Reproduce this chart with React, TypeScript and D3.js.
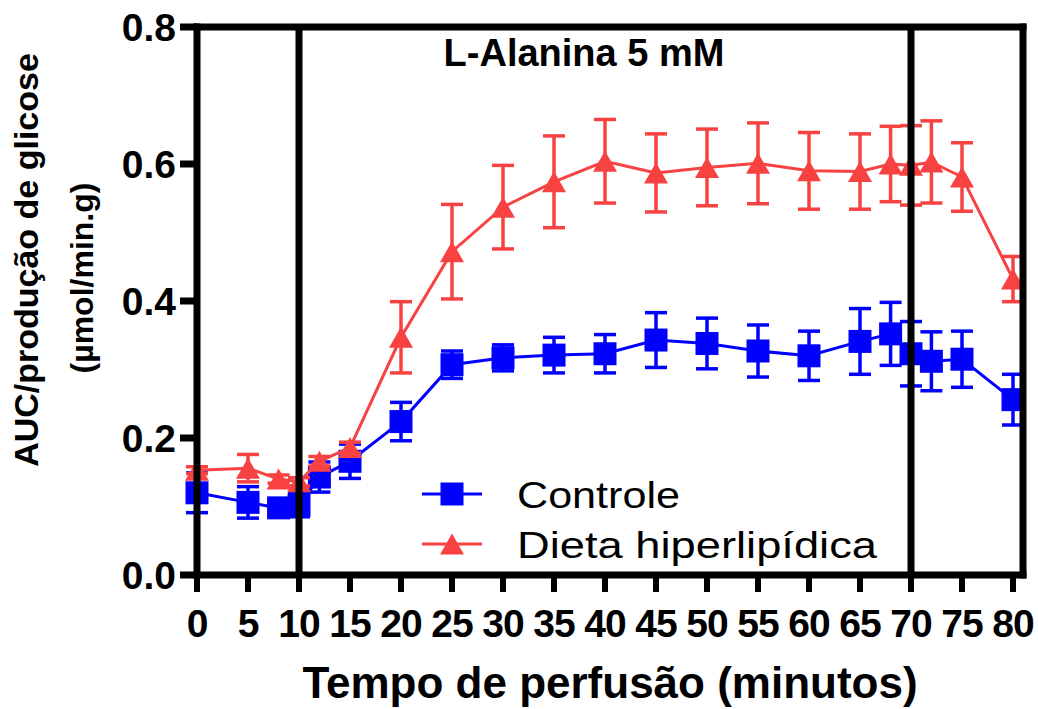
import React, { useEffect, useRef } from 'react';
import * as d3 from 'd3';

// tempo de perfusão (min)
const tempos = [0, 5, 8, 10, 12, 15, 20, 25, 30, 35, 40, 45, 50, 55, 60, 65, 68, 70, 72, 75, 80];

const controle = [0.120, 0.106, 0.098, 0.102, 0.143, 0.166, 0.224, 0.307, 0.317, 0.321, 0.323, 0.343, 0.338, 0.327, 0.320, 0.341, 0.352, 0.323, 0.312, 0.315, 0.256];
const controleErr = [0.029, 0.023, 0.010, 0.017, 0.022, 0.025, 0.028, 0.020, 0.019, 0.026, 0.028, 0.040, 0.037, 0.038, 0.036, 0.048, 0.046, 0.047, 0.043, 0.041, 0.037];

const dieta = [0.153, 0.156, 0.140, 0.136, 0.166, 0.186, 0.347, 0.472, 0.537, 0.574, 0.604, 0.587, 0.595, 0.601, 0.590, 0.589, 0.600, 0.598, 0.603, 0.581, 0.432];
const dietaErr = [0.005, 0.020, 0.006, 0.006, 0.007, 0.008, 0.052, 0.069, 0.061, 0.067, 0.061, 0.057, 0.056, 0.059, 0.056, 0.055, 0.055, 0.058, 0.060, 0.050, 0.033];

const xTicks = d3.range(0, 81, 5);
const yTicks = [0, 0.2, 0.4, 0.6, 0.8];
const refLines = [10, 70];

const BLUE = '#0000ff';
const RED = '#f84242';
const FONT = '"Liberation Sans", Arial, Helvetica, sans-serif';

const App = () => {
  const svgRef = useRef<SVGSVGElement | null>(null);

  useEffect(() => {
    const svg = d3.select(svgRef.current);
    svg.selectAll('*').remove();

    const x = d3.scaleLinear().domain([0, 80]).range([197, 1013]);
    const y = d3.scaleLinear().domain([0, 0.8]).range([575, 27]);
    const right = 1023;

    const plot = svg.append('g');

    const series = [
      { name: 'Controle', vals: controle, err: controleErr, color: BLUE, shape: 'square' },
      { name: 'Dieta hiperlipídica', vals: dieta, err: dietaErr, color: RED, shape: 'triangle' },
    ];

    const triPath = (w: number, h: number) => `M0,${-h / 2}L${w / 2},${h / 2}L${-w / 2},${h / 2}Z`;

    series.forEach((s) => {
      const pts = tempos.map((t, i) => ({ t, v: s.vals[i], e: s.err[i] }));
      const g = plot.append('g');

      // error bars
      const eb = g.selectAll('.eb').data(pts).join('g').attr('class', 'eb')
        .attr('stroke', s.color).attr('stroke-width', 3.5);
      eb.append('line')
        .attr('x1', (d) => x(d.t)).attr('x2', (d) => x(d.t))
        .attr('y1', (d) => y(d.v + d.e)).attr('y2', (d) => y(d.v - d.e));
      eb.append('line')
        .attr('x1', (d) => x(d.t) - 11).attr('x2', (d) => x(d.t) + 11)
        .attr('y1', (d) => y(d.v + d.e)).attr('y2', (d) => y(d.v + d.e));
      eb.append('line')
        .attr('x1', (d) => x(d.t) - 11).attr('x2', (d) => x(d.t) + 11)
        .attr('y1', (d) => y(d.v - d.e)).attr('y2', (d) => y(d.v - d.e));

      const line = d3.line<{ t: number; v: number }>().x((d) => x(d.t)).y((d) => y(d.v));
      g.append('path').datum(pts).attr('d', line).attr('fill', 'none')
        .attr('stroke', s.color).attr('stroke-width', 3);

      if (s.shape === 'square') {
        g.selectAll('.mk').data(pts).join('rect').attr('class', 'mk')
          .attr('x', (d) => x(d.t) - 11.5).attr('y', (d) => y(d.v) - 11.5)
          .attr('width', 23).attr('height', 23).attr('fill', s.color);
      } else {
        g.selectAll('.mk').data(pts).join('path').attr('class', 'mk')
          .attr('transform', (d) => `translate(${x(d.t)},${y(d.v)})`)
          .attr('d', triPath(24, 21)).attr('fill', s.color);
      }
    });

    // reference lines (10 and 70 min)
    svg.selectAll('.ref').data(refLines).join('line').attr('class', 'ref')
      .attr('x1', (d) => x(d)).attr('x2', (d) => x(d))
      .attr('y1', y(0.8)).attr('y2', y(0))
      .attr('stroke', '#000').attr('stroke-width', 7);

    // frame
    const frame = svg.append('g').attr('stroke', '#000').attr('stroke-width', 7).attr('fill', 'none');
    frame.append('line').attr('x1', x(0)).attr('x2', x(0)).attr('y1', y(0.8) - 3.5).attr('y2', y(0) + 3.5);
    frame.append('line').attr('x1', x(0) - 3.5).attr('x2', right + 3.5).attr('y1', y(0)).attr('y2', y(0));
    frame.append('line').attr('x1', x(0) - 3.5).attr('x2', right + 3.5).attr('y1', y(0.8)).attr('y2', y(0.8));
    frame.append('line').attr('x1', right).attr('x2', right).attr('y1', y(0.8) - 3.5).attr('y2', y(0) + 3.5);

    // y axis
    svg.selectAll('.yt').data(yTicks).join('line').attr('class', 'yt')
      .attr('x1', x(0) - 17).attr('x2', x(0)).attr('y1', (d) => y(d)).attr('y2', (d) => y(d))
      .attr('stroke', '#000').attr('stroke-width', 7);
    svg.selectAll('.yl').data(yTicks).join('text').attr('class', 'yl')
      .attr('x', 176).attr('y', (d) => y(d) + 14)
      .attr('text-anchor', 'end').attr('font-family', FONT).attr('font-weight', 'bold')
      .attr('font-size', 39).text((d) => d3.format('.1f')(d));

    // x axis
    svg.selectAll('.xt').data(xTicks).join('line').attr('class', 'xt')
      .attr('x1', (d) => x(d)).attr('x2', (d) => x(d)).attr('y1', y(0)).attr('y2', y(0) + 17)
      .attr('stroke', '#000').attr('stroke-width', 6);
    svg.selectAll('.xl').data(xTicks).join('text').attr('class', 'xl')
      .attr('x', (d) => x(d)).attr('y', 637)
      .attr('text-anchor', 'middle').attr('font-family', FONT).attr('font-weight', 'bold')
      .attr('font-size', 39).attr('letter-spacing', -1).text((d) => d);

    // titles
    svg.append('text').attr('x', 610).attr('y', 698).attr('text-anchor', 'middle')
      .attr('font-family', FONT).attr('font-weight', 'bold').attr('font-size', 44)
      .text('Tempo de perfusão (minutos)');
    svg.append('text').attr('transform', 'translate(38,260) rotate(-90)').attr('text-anchor', 'middle')
      .attr('font-family', FONT).attr('font-weight', 'bold').attr('font-size', 34)
      .text('AUC/produção de glicose');
    svg.append('text').attr('transform', 'translate(93,278) rotate(-90)').attr('text-anchor', 'middle')
      .attr('font-family', FONT).attr('font-weight', 'bold').attr('font-size', 32)
      .text('(µmol/min.g)');
    svg.append('text').attr('x', 584).attr('y', 66).attr('text-anchor', 'middle')
      .attr('font-family', FONT).attr('font-weight', 'bold').attr('font-size', 38)
      .text('L-Alanina 5 mM');

    // legend
    const leg = svg.append('g');
    const legY = [494, 544];
    const legLen = [163, 360];
    series.forEach((s, i) => {
      const ly = legY[i];
      leg.append('line').attr('x1', 422).attr('x2', 482).attr('y1', ly).attr('y2', ly)
        .attr('stroke', s.color).attr('stroke-width', 3);
      if (s.shape === 'square') {
        leg.append('rect').attr('x', 452 - 11.5).attr('y', ly - 11.5).attr('width', 23).attr('height', 23).attr('fill', s.color);
      } else {
        leg.append('path').attr('transform', `translate(452,${ly})`).attr('d', triPath(24, 21)).attr('fill', s.color);
      }
      leg.append('text').attr('x', 517).attr('y', ly + 14)
        .attr('font-family', FONT).attr('font-size', 36)
        .attr('textLength', legLen[i]).attr('lengthAdjust', 'spacingAndGlyphs')
        .text(s.name);
    });
  }, []);

  return (
    <svg ref={svgRef} width={1038} height={709}
      style={{ position: 'absolute', left: 0, top: 0, background: '#fff' }} />
  );
};

export default App;
